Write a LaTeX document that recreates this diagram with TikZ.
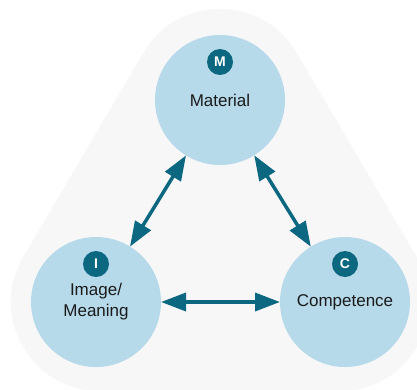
\documentclass[tikz,border=0pt]{standalone}
\usepackage{fontspec}
\setmainfont{Liberation Sans}
\usetikzlibrary{arrows.meta}
\definecolor{panelgray}{HTML}{F7F7F7}
\definecolor{bubble}{HTML}{B7DAEB}
\definecolor{teal}{HTML}{0C6880}
\definecolor{ink}{HTML}{1A1A1A}
\tikzset{
  concept/.style={circle, fill=bubble, minimum size=130pt, inner sep=0pt, outer sep=0pt,
    text=ink, align=center, font=\fontsize{17}{21}\selectfont},
  badge/.style={circle, fill=teal, minimum size=26pt, inner sep=0pt, text=white,
    font=\fontsize{14}{14}\selectfont\bfseries},
  link/.style={draw=teal, line width=3.5pt, {Triangle[length=25pt,width=18pt]}-{Triangle[length=25pt,width=18pt]}}
}
\begin{document}
\begin{tikzpicture}[x=1pt, y=-1pt]
  \useasboundingbox (0,0) rectangle (417,389);
  % soft rounded triangle behind the three concepts
  \filldraw[draw=panelgray, fill=panelgray, line width=178pt, line join=round]
    (220,98) -- (100,302) -- (340,302) -- cycle;

  % concepts
  \node[concept] (mat) at (220,100) {Material};
  \node[concept] (img) at (96,302) {Image/\\Meaning};
  \node[concept] (com) at (345,302) {Competence};

  % letter badges
  \node[badge] (bm) at (220,62) {M};
  \node[badge] (bi) at (96,264) {I};
  \node[badge] (bc) at (345,264) {C};

  % relations
  \draw[link] (mat) -- (img);
  \draw[link] (mat) -- (com);
  \draw[link] (img) -- (com);
\end{tikzpicture}
\end{document}
